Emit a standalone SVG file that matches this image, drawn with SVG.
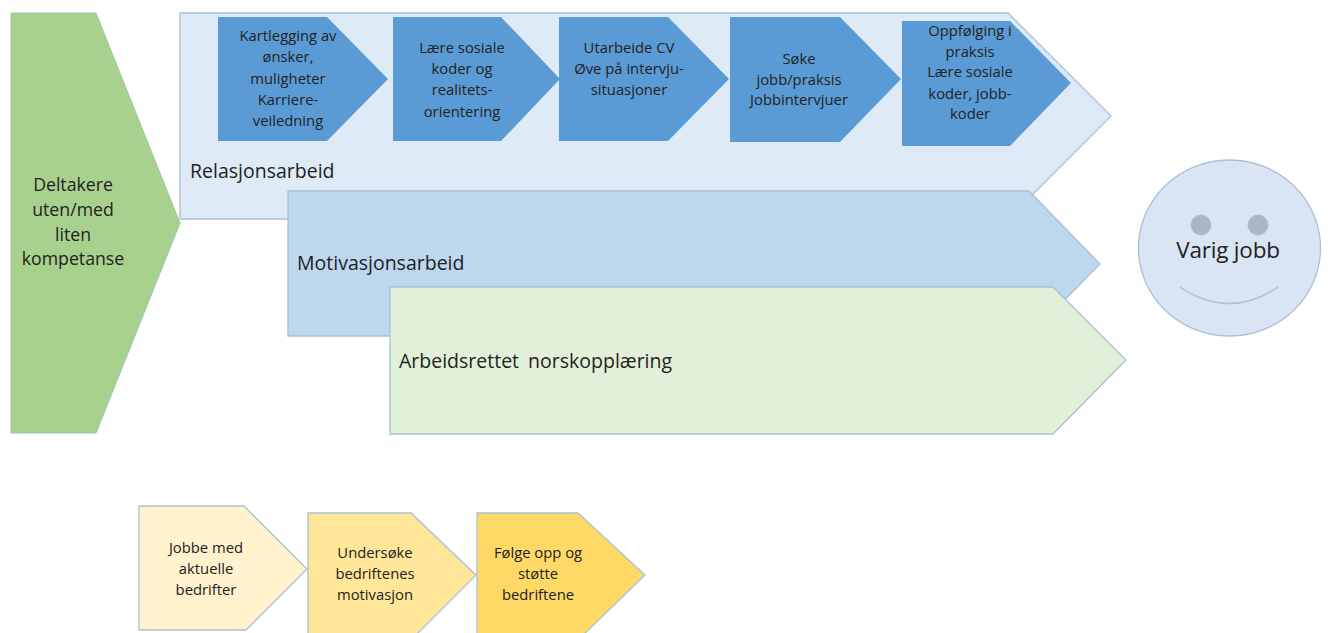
<svg xmlns="http://www.w3.org/2000/svg" width="1328" height="633" viewBox="0 0 1328 633">
<defs><style>
text{font-family:"Open Sans","Noto Sans","DejaVu Sans",sans-serif;fill:#222;text-anchor:middle}
.s{font-size:14.8px}
.m{font-size:17.7px}
.l{font-size:19.5px;text-anchor:start}
.blue{fill:#5b9bd5}
.o{stroke:#a9c0d8;stroke-width:1.3}
</style></defs>
<rect width="1328" height="633" fill="#fff"/>
<g id="connectors"></g>
<g id="n-deltakere"><polygon points="11,13 96,13 180,223 96,433 11,433" fill="#a9d18e" stroke="#9cc3b0" stroke-width="1"/>
<text class="m"><tspan x="73" y="191">Deltakere</tspan><tspan x="73" y="216">uten/med</tspan><tspan x="73" y="241">liten</tspan><tspan x="73" y="265">kompetanse</tspan></text></g>
<g id="n-relasjon"><polygon points="180,13 1008,13 1111,116 1008,219 180,219" fill="#deebf7" class="o"/>
<text class="l" x="190" y="178">Relasjonsarbeid</text></g>
<g id="n-motivasjon"><polygon points="288,191 1029,191 1100,264 1029,336 288,336" fill="#bdd7ee" class="o"/>
<text class="l" x="297" y="270">Motivasjonsarbeid</text></g>
<g id="n-norsk"><polygon points="390,287 1053,287 1126,360 1053,434 390,434" fill="#e2f0d9" class="o"/>
<text class="l" x="399" y="368" word-spacing="4">Arbeidsrettet norskopplæring</text></g>
<g id="n-kartlegging"><polygon class="blue" points="218,17 327,17 388,79 327,141 218,141"/>
<text class="s"><tspan x="288" y="41">Kartlegging av</tspan><tspan x="288" y="62">ønsker,</tspan><tspan x="288" y="84">muligheter</tspan><tspan x="288" y="105">Karriere-</tspan><tspan x="288" y="126">veiledning</tspan></text></g>
<g id="n-laere"><polygon class="blue" points="393,17 501,17 560,79 501,141 393,141"/>
<text class="s"><tspan x="462" y="53">Lære sosiale</tspan><tspan x="462" y="74">koder og</tspan><tspan x="462" y="95">realitets-</tspan><tspan x="462" y="117">orientering</tspan></text></g>
<g id="n-utarbeide"><polygon class="blue" points="559,17 668,17 729,79 668,141 559,141"/>
<text class="s"><tspan x="629" y="53">Utarbeide CV</tspan><tspan x="629" y="74">Øve på intervju-</tspan><tspan x="629" y="95">situasjoner</tspan></text></g>
<g id="n-soke"><polygon class="blue" points="730,17 840,17 901,79 840,142 730,142"/>
<text class="s"><tspan x="799" y="64">Søke</tspan><tspan x="799" y="85">jobb/praksis</tspan><tspan x="799" y="105">Jobbintervjuer</tspan></text></g>
<g id="n-oppfolging"><polygon class="blue" points="902,21 1010,21 1071,83 1010,146 902,146"/>
<text class="s"><tspan x="970" y="36">Oppfølging i</tspan><tspan x="970" y="57">praksis</tspan><tspan x="970" y="77">Lære sosiale</tspan><tspan x="970" y="99">koder, jobb-</tspan><tspan x="970" y="119">koder</tspan></text></g>
<g id="n-varig"><ellipse cx="1229.5" cy="248" rx="91" ry="88" fill="#d9e4f4" stroke="#a9c0d8" stroke-width="1.3"/>
<circle cx="1201" cy="225" r="10" fill="#aab6c8" stroke="#a9c0d8"/><circle cx="1258" cy="225" r="10" fill="#aab6c8" stroke="#a9c0d8"/>
<path d="M1180 287Q1229 320 1278 287" fill="none" stroke="#a9c0d8" stroke-width="1.5"/>
<text x="1228" y="258" style="font-size:22.5px;letter-spacing:-.2px">Varig jobb</text></g>
<g id="n-jobbe"><polygon points="139,506 244,506 307,569 246,630 139,630" fill="#fff2cc" class="o"/>
<text class="s"><tspan x="206" y="553">Jobbe med</tspan><tspan x="206" y="574">aktuelle</tspan><tspan x="206" y="595">bedrifter</tspan></text></g>
<g id="n-undersoke"><polygon points="308,513 411,513 476,575 411,640 308,640" fill="#ffe699" class="o"/>
<text class="s"><tspan x="375" y="558">Undersøke</tspan><tspan x="375" y="579">bedriftenes</tspan><tspan x="375" y="600">motivasjon</tspan></text></g>
<g id="n-folge"><polygon points="477,513 578,513 645,575 578,640 477,640" fill="#ffd966" class="o"/>
<text class="s"><tspan x="538" y="558">Følge opp og</tspan><tspan x="538" y="579">støtte</tspan><tspan x="538" y="600">bedriftene</tspan></text></g>
</svg>
